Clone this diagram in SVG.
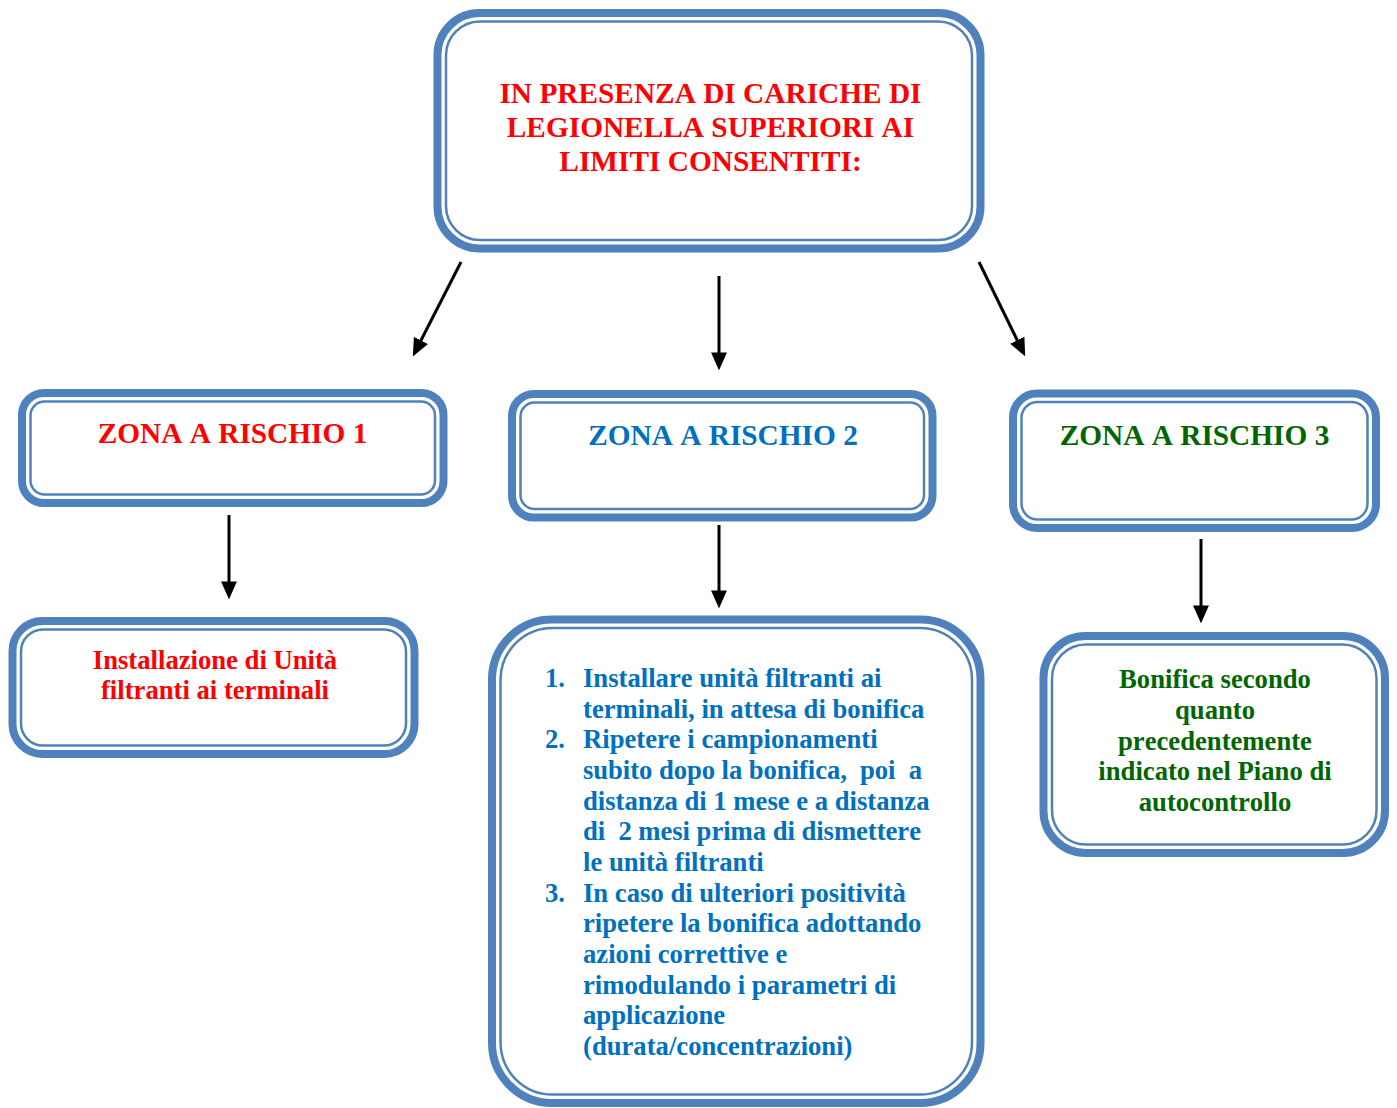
<svg xmlns="http://www.w3.org/2000/svg" width="1397" height="1108" viewBox="0 0 1397 1108">
<style>
.outer{fill:#fff;stroke:#4F81BD;stroke-width:8}
.inner{fill:none;stroke:#4F81BD;stroke-width:2.5}
text{font-family:"Liberation Serif","Times New Roman",serif;font-weight:bold;font-kerning:none}
.big{font-size:29.33px}
.sm{font-size:26.67px}
.red{fill:#FF0000}
.blue{fill:#0070C0}
.green{fill:#006600}
.c{text-anchor:middle}
.conn line{stroke:#000;stroke-width:3}
</style>
<defs>
<marker id="ah" markerUnits="userSpaceOnUse" markerWidth="18" markerHeight="16" refX="10" refY="7.5" orient="auto" viewBox="0 0 17 15">
<path d="M0,0 L17,7.5 L0,15 z" fill="#000"/>
</marker>
</defs>
<rect width="1397" height="1108" fill="#fff"/>
<g id="top">
<rect class="outer" x="437.5" y="13" width="543" height="235.5" rx="42"/>
<rect class="inner" x="446" y="21.5" width="526" height="218.5" rx="34"/>
<text class="big red c" x="710.5" y="102.7">IN PRESENZA DI CARICHE DI</text>
<text class="big red c" x="710.5" y="136.7">LEGIONELLA SUPERIORI AI</text>
<text class="big red c" x="710.5" y="170.7">LIMITI CONSENTITI:</text>
</g>
<g id="zona1">
<rect class="outer" x="22" y="393" width="421.5" height="110" rx="22"/>
<rect class="inner" x="30.5" y="401.5" width="404.5" height="93" rx="14"/>
<text class="big red c" x="232.5" y="442.7">ZONA A RISCHIO 1</text>
</g>
<g id="zona2">
<rect class="outer" x="512" y="394" width="420.5" height="123.5" rx="22"/>
<rect class="inner" x="520.5" y="402.5" width="403.5" height="106.5" rx="14"/>
<text class="big blue c" x="723" y="444.7">ZONA A RISCHIO 2</text>
</g>
<g id="zona3">
<rect class="outer" x="1013" y="393.5" width="363" height="134.5" rx="24"/>
<rect class="inner" x="1021.5" y="402" width="346" height="117.5" rx="16"/>
<text class="big green c" x="1194.5" y="444.7">ZONA A RISCHIO 3</text>
</g>
<g id="azione1">
<rect class="outer" x="12.5" y="621" width="402" height="133" rx="30"/>
<rect class="inner" x="21" y="629.5" width="385" height="116" rx="22"/>
<text class="sm red c" x="215" y="669">Installazione di Unità</text>
<text class="sm red c" x="215" y="699">filtranti ai terminali</text>
</g>
<g id="azione2">
<rect class="outer" x="492" y="619.5" width="488.5" height="483.5" rx="60"/>
<rect class="inner" x="500.5" y="628" width="471.5" height="466.5" rx="52"/>
<g class="sm blue">
<text x="545" y="687">1.</text>
<text x="583" y="687">Installare unità filtranti ai</text>
<text x="583" y="717.7">terminali, in attesa di bonifica</text>
<text x="545" y="748.3">2.</text>
<text x="583" y="748.3">Ripetere i campionamenti</text>
<text x="583" y="779" xml:space="preserve" textLength="339" lengthAdjust="spacing">subito dopo la bonifica,  poi  a</text>
<text x="583" y="809.6">distanza di 1 mese e a distanza</text>
<text x="583" y="840.3" xml:space="preserve" textLength="338" lengthAdjust="spacing">di  2 mesi prima di dismettere</text>
<text x="583" y="870.9">le unità filtranti</text>
<text x="545" y="901.6">3.</text>
<text x="583" y="901.6">In caso di ulteriori positività</text>
<text x="583" y="932.2">ripetere la bonifica adottando</text>
<text x="583" y="962.9">azioni correttive e</text>
<text x="583" y="993.5">rimodulando i parametri di</text>
<text x="583" y="1024.2">applicazione</text>
<text x="583" y="1054.8">(durata/concentrazioni)</text>
</g>
</g>
<g id="azione3">
<rect class="outer" x="1043.5" y="636" width="341.5" height="217" rx="42"/>
<rect class="inner" x="1052" y="644.5" width="324.5" height="200" rx="34"/>
<text class="sm green c" x="1215" y="688">Bonifica secondo</text>
<text class="sm green c" x="1215" y="719">quanto</text>
<text class="sm green c" x="1215" y="749.5">precedentemente</text>
<text class="sm green c" x="1215" y="780">indicato nel Piano di</text>
<text class="sm green c" x="1215" y="811">autocontrollo</text>
</g>
<g class="conn" id="connectors">
<line x1="461" y1="262" x2="416.2" y2="349.8" marker-end="url(#ah)"/>
<line x1="719" y1="276" x2="719" y2="363" marker-end="url(#ah)"/>
<line x1="979" y1="262" x2="1021.9" y2="349.7" marker-end="url(#ah)"/>
<line x1="229" y1="515" x2="229" y2="592" marker-end="url(#ah)"/>
<line x1="719" y1="525" x2="719" y2="601" marker-end="url(#ah)"/>
<line x1="1201" y1="539" x2="1201" y2="616" marker-end="url(#ah)"/>
</g>
</svg>
